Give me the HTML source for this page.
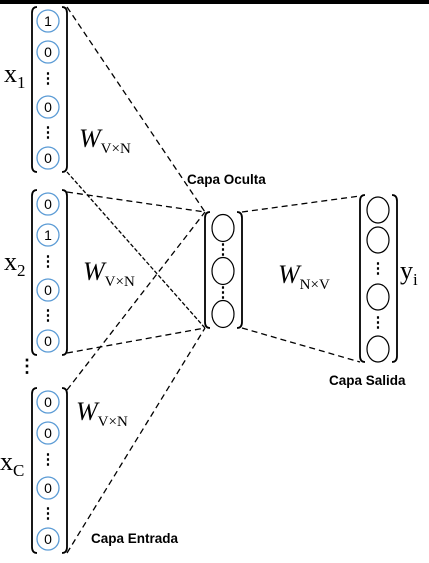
<!DOCTYPE html>
<html><head><meta charset="utf-8"><style>
html,body{margin:0;padding:0;background:#fff}
svg{display:block}
.s{font-family:"Liberation Serif",serif}
.b{font-family:"Liberation Sans",sans-serif;font-weight:bold;font-size:13.5px}
.n{font-family:"Liberation Sans",sans-serif;font-size:14px}
</style></head><body>
<svg width="429" height="563" viewBox="0 0 429 563">
<rect x="0" y="0" width="429" height="4" fill="#000"/>
<g fill="none" stroke="#000" stroke-width="1.3" stroke-dasharray="6,4">
<line x1="67" y1="7" x2="205" y2="212"/>
<line x1="67" y1="172" x2="205" y2="328" stroke-dasharray="4,2"/>
<line x1="67" y1="192" x2="205" y2="212"/>
<line x1="67" y1="353" x2="205" y2="328"/>
<line x1="67" y1="390" x2="205" y2="212"/>
<line x1="67" y1="553" x2="205" y2="328"/>
<line x1="242" y1="212" x2="360" y2="196"/>
<line x1="242" y1="328" x2="360" y2="362"/>
</g>
<g id="vecs"></g>
<text class="s" x="4" y="82" font-size="26">x<tspan font-size="17" dy="6">1</tspan></text>
<text class="s" x="4" y="270" font-size="26">x<tspan font-size="17" dy="6">2</tspan></text>
<text class="s" x="0" y="470" font-size="26">x<tspan font-size="17" dy="6">C</tspan></text>
<text class="s" x="18" y="372" font-size="18" font-weight="bold">⋮</text>
<text class="s" x="79" y="147" font-size="26" font-style="italic">W<tspan font-style="normal" font-size="15" dy="6">V×N</tspan></text>
<text class="s" x="83" y="280" font-size="26" font-style="italic">W<tspan font-style="normal" font-size="15" dy="6">V×N</tspan></text>
<text class="s" x="76" y="420" font-size="26" font-style="italic">W<tspan font-style="normal" font-size="15" dy="6">V×N</tspan></text>
<text class="s" x="278" y="283" font-size="26" font-style="italic">W<tspan font-style="normal" font-size="15" dy="6">N×V</tspan></text>
<text class="s" x="400" y="279" font-size="26">y<tspan font-size="17" dy="6">i</tspan></text>
<text class="b" x="187" y="184">Capa Oculta</text>
<text class="b" x="329" y="385">Capa Salida</text>
<text class="b" x="91" y="543">Capa Entrada</text>
</svg>
<script>
const ns="http://www.w3.org/2000/svg";
const g=document.getElementById('vecs');
function el(t,a){const e=document.createElementNS(ns,t);for(const k in a)e.setAttribute(k,a[k]);g.appendChild(e);return e;}
function bracket(x1,x2,y1,y2,name){
 const p=el('path',{d:`M${x1+5},${y1} Q${x1},${y1} ${x1},${y1+6} L${x1},${y2-6} Q${x1},${y2} ${x1+5},${y2} M${x2-5},${y1} Q${x2},${y1} ${x2},${y1+6} L${x2},${y2-6} Q${x2},${y2} ${x2-5},${y2}`,fill:'none',stroke:'#000','stroke-width':1.8});
 
 
}
function dots(x,y){const t=el('text',{x:x,y:y,'text-anchor':'middle','font-size':15,'font-weight':'bold','font-family':'Liberation Serif,serif'});t.textContent='⋮';
 
 }
function inVec(y0,vals,name){
 bracket(32,67,y0,y0+165,name+'-bracket');
 const ys=[14,45,null,100,null,151];
 let vi=0;
 ys.forEach((d,i)=>{
  if(d===null){dots(48,y0+[0,0,76,0,130][i]);return;}
  const c=el('circle',{cx:48,cy:y0+d,r:11,fill:'#fff',stroke:'#5b9bd5','stroke-width':1.3});
  
  
  const t=el('text',{x:48,y:y0+d+5,'text-anchor':'middle',class:'n'});t.textContent=vals[vi++];
  
  
 });
}
inVec(7,['1','0','0','0'],'input-x1');
inVec(190,['0','1','0','0'],'input-x2');
inVec(388,['0','0','0','0'],'input-xc');
bracket(205,242,212,328,'hidden-bracket');
[228,271,314].forEach(y=>{const c=el('ellipse',{cx:223,cy:y,rx:11,ry:13.5,fill:'#fff',stroke:'#000','stroke-width':1.2});
 
 });
dots(223,254);dots(223,297);
bracket(360,397,195,362,'output-bracket');
[210,240,297,349].forEach(y=>{const c=el('ellipse',{cx:378,cy:y,rx:11,ry:13,fill:'#fff',stroke:'#000','stroke-width':1.2});
 
 });
dots(378,273);dots(378,327);
</script>
</body></html>
